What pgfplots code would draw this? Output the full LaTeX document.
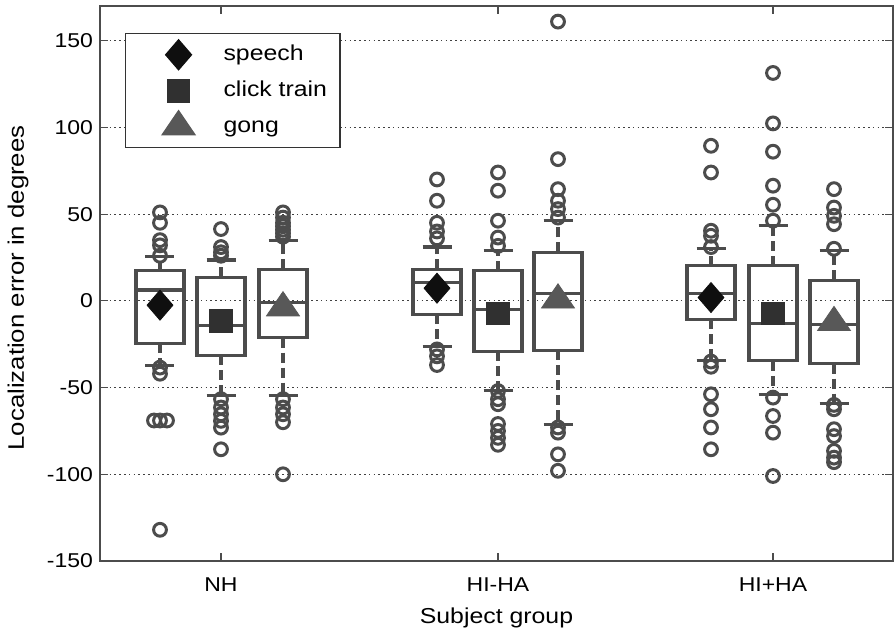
\documentclass[border=0pt]{standalone}
\usepackage{pgfplots}
\pgfplotsset{compat=1.18}
\usepackage{fontspec}
\setmainfont{Liberation Sans}[FakeStretch=1.15]
\definecolor{boxgray}{HTML}{4C4C4C}
\definecolor{spc}{HTML}{0F0F0F}
\definecolor{clk}{HTML}{303030}
\definecolor{gng}{HTML}{585858}
\pgfplotsset{
  boxline/.style={boxgray, line width=1.6pt, no marks, forget plot},
  whisk/.style={boxgray, line width=1.6pt, no marks, forget plot, dash pattern=on 5pt off 2.5pt},
  outl/.style={only marks, boxgray, mark=o, mark size=3.2pt, mark options={solid, line width=1.5pt}, forget plot},
  meanleg/.style={legend image code/.code={%
      \path[draw=none,fill=none] (0pt,-9pt) rectangle (42.5pt,9pt);
      \draw[##1] plot coordinates {(20pt,0pt)};}},
}
% #1 position, #2 lower whisker, #3 lower quartile, #4 median, #5 upper quartile, #6 upper whisker
\newcommand{\bx}[6]{%
  \pgfmathsetmacro\bxl{#1-24}%
  \pgfmathsetmacro\bxr{#1+24}%
  \pgfmathsetmacro\cpl{#1-14.5}%
  \pgfmathsetmacro\cpr{#1+14.5}%
  \edef\tmp{%
    \noexpand\addplot[whisk] coordinates {(#1,#3) (#1,#2)};
    \noexpand\addplot[whisk] coordinates {(#1,#5) (#1,#6)};
    \noexpand\addplot[boxline] coordinates {(\cpl,#2) (\cpr,#2)};
    \noexpand\addplot[boxline] coordinates {(\cpl,#6) (\cpr,#6)};
    \noexpand\addplot[boxline, line cap=rect] coordinates {(\bxl,#3) (\bxr,#3) (\bxr,#5) (\bxl,#5) (\bxl,#3)};
    \noexpand\addplot[boxline] coordinates {(\bxl,#4) (\bxr,#4)};
  }\tmp
}
\begin{document}
\begin{tikzpicture}
\begin{axis}[
  scale only axis, width=396.5pt, height=277.5pt,
  xmin=100, xmax=893, ymin=-150, ymax=170,
  xtick={221,498,773}, xticklabels={NH,HI-HA,HI+HA},
  ytick={-150,-100,-50,0,50,100,150},
  yticklabels={-150,-100,-50,0,50,100,150},
  tick align=inside, major tick length=4pt,
  xtick pos=both, ytick pos=both,
  ymajorgrids,
  grid style={dash pattern=on 0.8pt off 1.6pt, black!75, line width=0.5pt},
  axis line style={black!70, line width=0.6pt},
  tick style={black!70, line width=0.6pt},
  xlabel={Subject group}, ylabel={Localization error in degrees},
  ticklabel style={font=\fontsize{10}{12}\selectfont},
  xticklabel style={yshift=-5pt},
  xlabel style={font=\fontsize{10.8}{13}\selectfont, at={(axis description cs:0.5,0)}, anchor=north, yshift=-20pt},
  ylabel style={font=\fontsize{11.2}{13}\selectfont, at={(axis description cs:-0.1034,0.492)}, anchor=center},
  legend style={at={(axis description cs:0.0315,0.951)}, anchor=north west,
    draw=black!80, line width=0.6pt, fill=white,
    font=\fontsize{10.8}{13}\selectfont,
    inner xsep=6.5pt, inner ysep=1.5pt, row sep=0pt, column sep=0pt,
    nodes={inner sep=0pt, text height=7.8pt, text depth=2.2pt}},
  legend cell align=left,
]
% ---------------- NH ----------------
\bx{160}{-37.5}{-24.4}{6.3}{17.3}{25.4}
\addplot[outl] table[row sep=\\, x expr=160, y index=0] {y\\ 51\\ 45\\ 35\\ 32\\ 26\\ -38.5\\ -42\\ -69\\ -132\\};
\addplot[outl] coordinates {(154,-69) (167,-69)};
\bx{221}{-54.8}{-31.3}{-14.4}{13.5}{23.6}
\addplot[outl] table[row sep=\\, x expr=221, y index=0] {y\\ 41.4\\ 31\\ 28\\ 26\\ -56.7\\ -61.5\\ -65.4\\ -69.2\\ -73.1\\ -85.6\\};
\bx{283}{-54.8}{-21.2}{-1}{18.3}{34.6}
\addplot[outl] table[row sep=\\, x expr=283, y index=0] {y\\ 51\\ 48\\ 45\\ 43\\ 41\\ 39\\ 37\\ -56.7\\ -61.5\\ -65.4\\ -70\\ -100\\};
% ---------------- HI-HA ----------------
\bx{437}{-26.4}{-7.7}{10.6}{18.3}{31}
\addplot[outl] table[row sep=\\, x expr=437, y index=0] {y\\ 70\\ 57.7\\ 45\\ 40\\ 36\\ -28\\ -32\\ -37\\};
\bx{498}{-51.5}{-29.2}{-4.8}{17.3}{29.2}
\addplot[outl] table[row sep=\\, x expr=498, y index=0] {y\\ 74\\ 63.5\\ 46.2\\ 36.5\\ 31.7\\ -52\\ -56.7\\ -59.6\\ -71\\ -75\\ -79\\ -83\\};
\bx{558}{-71.5}{-28.5}{4.2}{27.9}{46.5}
\addplot[outl] table[row sep=\\, x expr=558, y index=0] {y\\ 161\\ 81.7\\ 64.4\\ 57.7\\ 52.9\\ 48\\ -73\\ -76\\ -88.5\\ -98\\};
% ---------------- HI+HA ----------------
\bx{711}{-34.2}{-10.6}{4.2}{20.2}{30.2}
\addplot[outl] table[row sep=\\, x expr=711, y index=0] {y\\ 89.4\\ 74\\ 40.4\\ 37.5\\ 31\\ -35\\ -38\\ -53.9\\ -62.5\\ -73\\ -85.6\\};
\bx{773}{-53.8}{-34.6}{-13.1}{20.2}{43.3}
\addplot[outl] table[row sep=\\, x expr=773, y index=0] {y\\ 131.4\\ 102.3\\ 86\\ 66.4\\ 55.4\\ 46.2\\ -55.8\\ -66.4\\ -76\\ -101\\};
\bx{834}{-59.2}{-36.2}{-13.5}{11.9}{28.9}
\addplot[outl] table[row sep=\\, x expr=834, y index=0] {y\\ 64.4\\ 53.8\\ 49\\ 44.2\\ 30\\ -60\\ -62.5\\ -74\\ -78\\ -86.5\\ -90.4\\ -93\\};
% ---------------- means ----------------
\addplot[only marks, mark=diamond*, mark size=7.5pt, mark options={xscale=1.15}, color=spc, meanleg]
  coordinates {(160,-2.5) (437,7.3) (711,1.9)};
\addlegendentry{speech}
\addplot[only marks, mark=square*, mark size=5.6pt, color=clk, meanleg]
  coordinates {(221,-11.5) (498,-7.1) (773,-7.1)};
\addlegendentry{click train}
\addplot[only marks, mark=triangle*, mark size=8.5pt, mark options={xscale=1.12, yscale=0.95}, color=gng, meanleg]
  coordinates {(283,-4) (558,0.5) (834,-12.5)};
\addlegendentry{gong}
\end{axis}
\pgfresetboundingbox
\path ([shift={(-50pt,-35.5pt)}]current axis.south west) rectangle ([shift={(1pt,3pt)}]current axis.north east);
\end{tikzpicture}
\end{document}
